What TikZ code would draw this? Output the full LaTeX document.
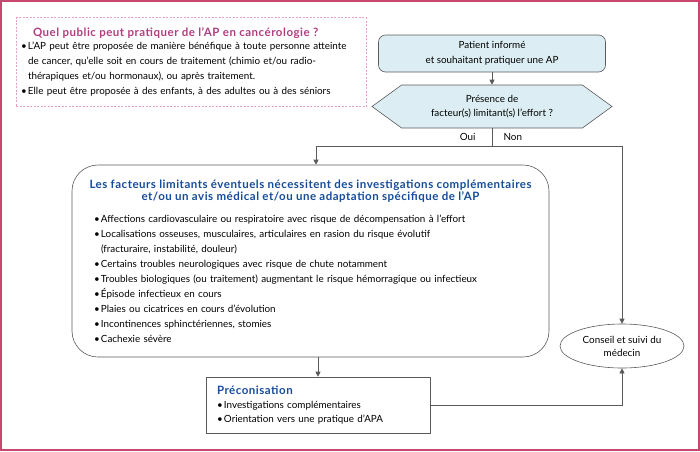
\documentclass[tikz,border=0pt]{standalone}
\usepackage{fontspec}
\setmainfont{Lato}
\newfontfamily\headfont[LetterSpace=4.5]{Lato}
\usetikzlibrary{shapes.geometric,shapes.symbols}
\usetikzlibrary{arrows.meta}
\usetikzlibrary{positioning}

\definecolor{framered}{RGB}{200,72,112}
\definecolor{pinkdash}{RGB}{232,160,200}
\definecolor{pinktitle}{RGB}{176,62,128}
\definecolor{bluetitle}{RGB}{22,76,154}
\definecolor{paleblue}{RGB}{220,238,243}
\definecolor{linegray}{RGB}{90,90,90}

\newcommand{\puce}{\makebox[7pt][l]{\textbullet}}
\newcommand{\headtext}{\fontsize{11.5}{15}\selectfont\headfont\bfseries}

\tikzset{
  box/.style={draw=linegray, line width=0.6pt},
  flow/.style={draw=linegray, line width=0.6pt, -{Triangle[length=5pt,width=5pt]}},
  link/.style={draw=linegray, line width=0.6pt},
  body/.style={font=\fontsize{9.85}{15}\selectfont},
}

\begin{document}
\begin{tikzpicture}[x=1pt,y=-1pt]
    \useasboundingbox (0,0) rectangle (700,451);
    % outer frame
    \draw [framered, line width=2pt] (1,1) rectangle (699,450);
    % who can practise
    \node [draw=pinkdash, line width=0.6pt, dash pattern=on 2pt off 1.5pt,
           minimum width=350pt, minimum height=89pt, inner xsep=5pt,
           text width=340pt, align=left, body] (public) at (191,62)
        {\hspace*{12pt}{\headtext\color{pinktitle}Quel public peut pratiquer de l’AP en cancérologie ?}\\[-1.5pt]
         \puce L’AP peut être proposée de manière bénéfique à toute personne atteinte\\
         \hspace*{7pt}de cancer, qu’elle soit en cours de traitement (chimio et/ou radio-\\
         \hspace*{7pt}thérapiques et/ou hormonaux), ou après traitement.\\
         \puce Elle peut être proposée à des enfants, à des adultes ou à des séniors};
    % patient
    \node [box, fill=paleblue, rounded corners=7pt, minimum width=227pt, minimum height=37pt,
           align=center, body] (patient) at (492,53.5)
        {Patient informé\\et souhaitant pratiquer une AP};
    % limiting factors question
    \node [box, fill=paleblue, shape=signal, signal to=west and east, signal pointer angle=72,
           minimum width=240pt, minimum height=43pt, align=center,
           font=\fontsize{9.85}{14}\selectfont] (presence) at (492,106.5)
        {Présence de\\facteur(s) limitant(s) l’effort ?};
    \coordinate (split) at ([yshift=-18pt]presence.south);
    \node [anchor=east, body] (oui) at ([xshift=-13pt,yshift=9pt]split) {Oui};
    \node [anchor=west, body] (non) at ([xshift=8pt,yshift=9pt]split) {Non};
    % limiting factors
    \node [box, rounded corners=26pt, minimum width=477pt, minimum height=192pt,
           text width=433pt, align=left, body] (limits) at (310.5,261)
        {\makebox[433pt][c]{\headtext\color{bluetitle}Les facteurs limitants éventuels nécessitent des investigations complémentaires}\\[-3pt]
         \makebox[433pt][c]{\headtext\color{bluetitle}et/ou un avis médical et/ou une adaptation spécifique de l’AP}\\[7pt]
         \puce Affections cardiovasculaire ou respiratoire avec risque de décompensation à l’effort\\
         \puce Localisations osseuses, musculaires, articulaires en rasion du risque évolutif\\
         \hspace*{7pt}(fracturaire, instabilité, douleur)\\
         \puce Certains troubles neurologiques avec risque de chute notamment\\
         \puce Troubles biologiques (ou traitement) augmentant le risque hémorragique ou infectieux\\
         \puce Épisode infectieux en cours\\
         \puce Plaies ou cicatrices en cours d’évolution\\
         \puce Incontinences sphinctériennes, stomies\\
         \puce Cachexie sévère};
    % advice
    \node [box, ellipse, minimum width=124pt, minimum height=44pt, inner sep=0pt,
           align=center, font=\fontsize{9.85}{13}\selectfont] (conseil) at (622,346)
        {Conseil et suivi du\\médecin};
    % recommendation
    \node [box, minimum width=224pt, minimum height=56pt, inner xsep=11pt,
           text width=202pt, align=left, font=\fontsize{9.85}{14}\selectfont] (preco) at (318,405)
        {{\headtext\color{bluetitle}Préconisation}\\
         \puce Investigations complémentaires\\
         \puce Orientation vers une pratique d’APA};
    % connectors
    \draw [flow] (patient.south -| presence.north) -- (presence.north);
    \draw [link] (presence.south) -- (split);
    \draw [flow] (split) -| ([xshift=5.5pt]limits.north);
    \draw [flow] (split) -| (conseil.north);
    \draw [flow] (limits.south -| preco.north) -- (preco.north);
    \draw [flow] (preco.east) -| (conseil.south);
\end{tikzpicture}
\end{document}
